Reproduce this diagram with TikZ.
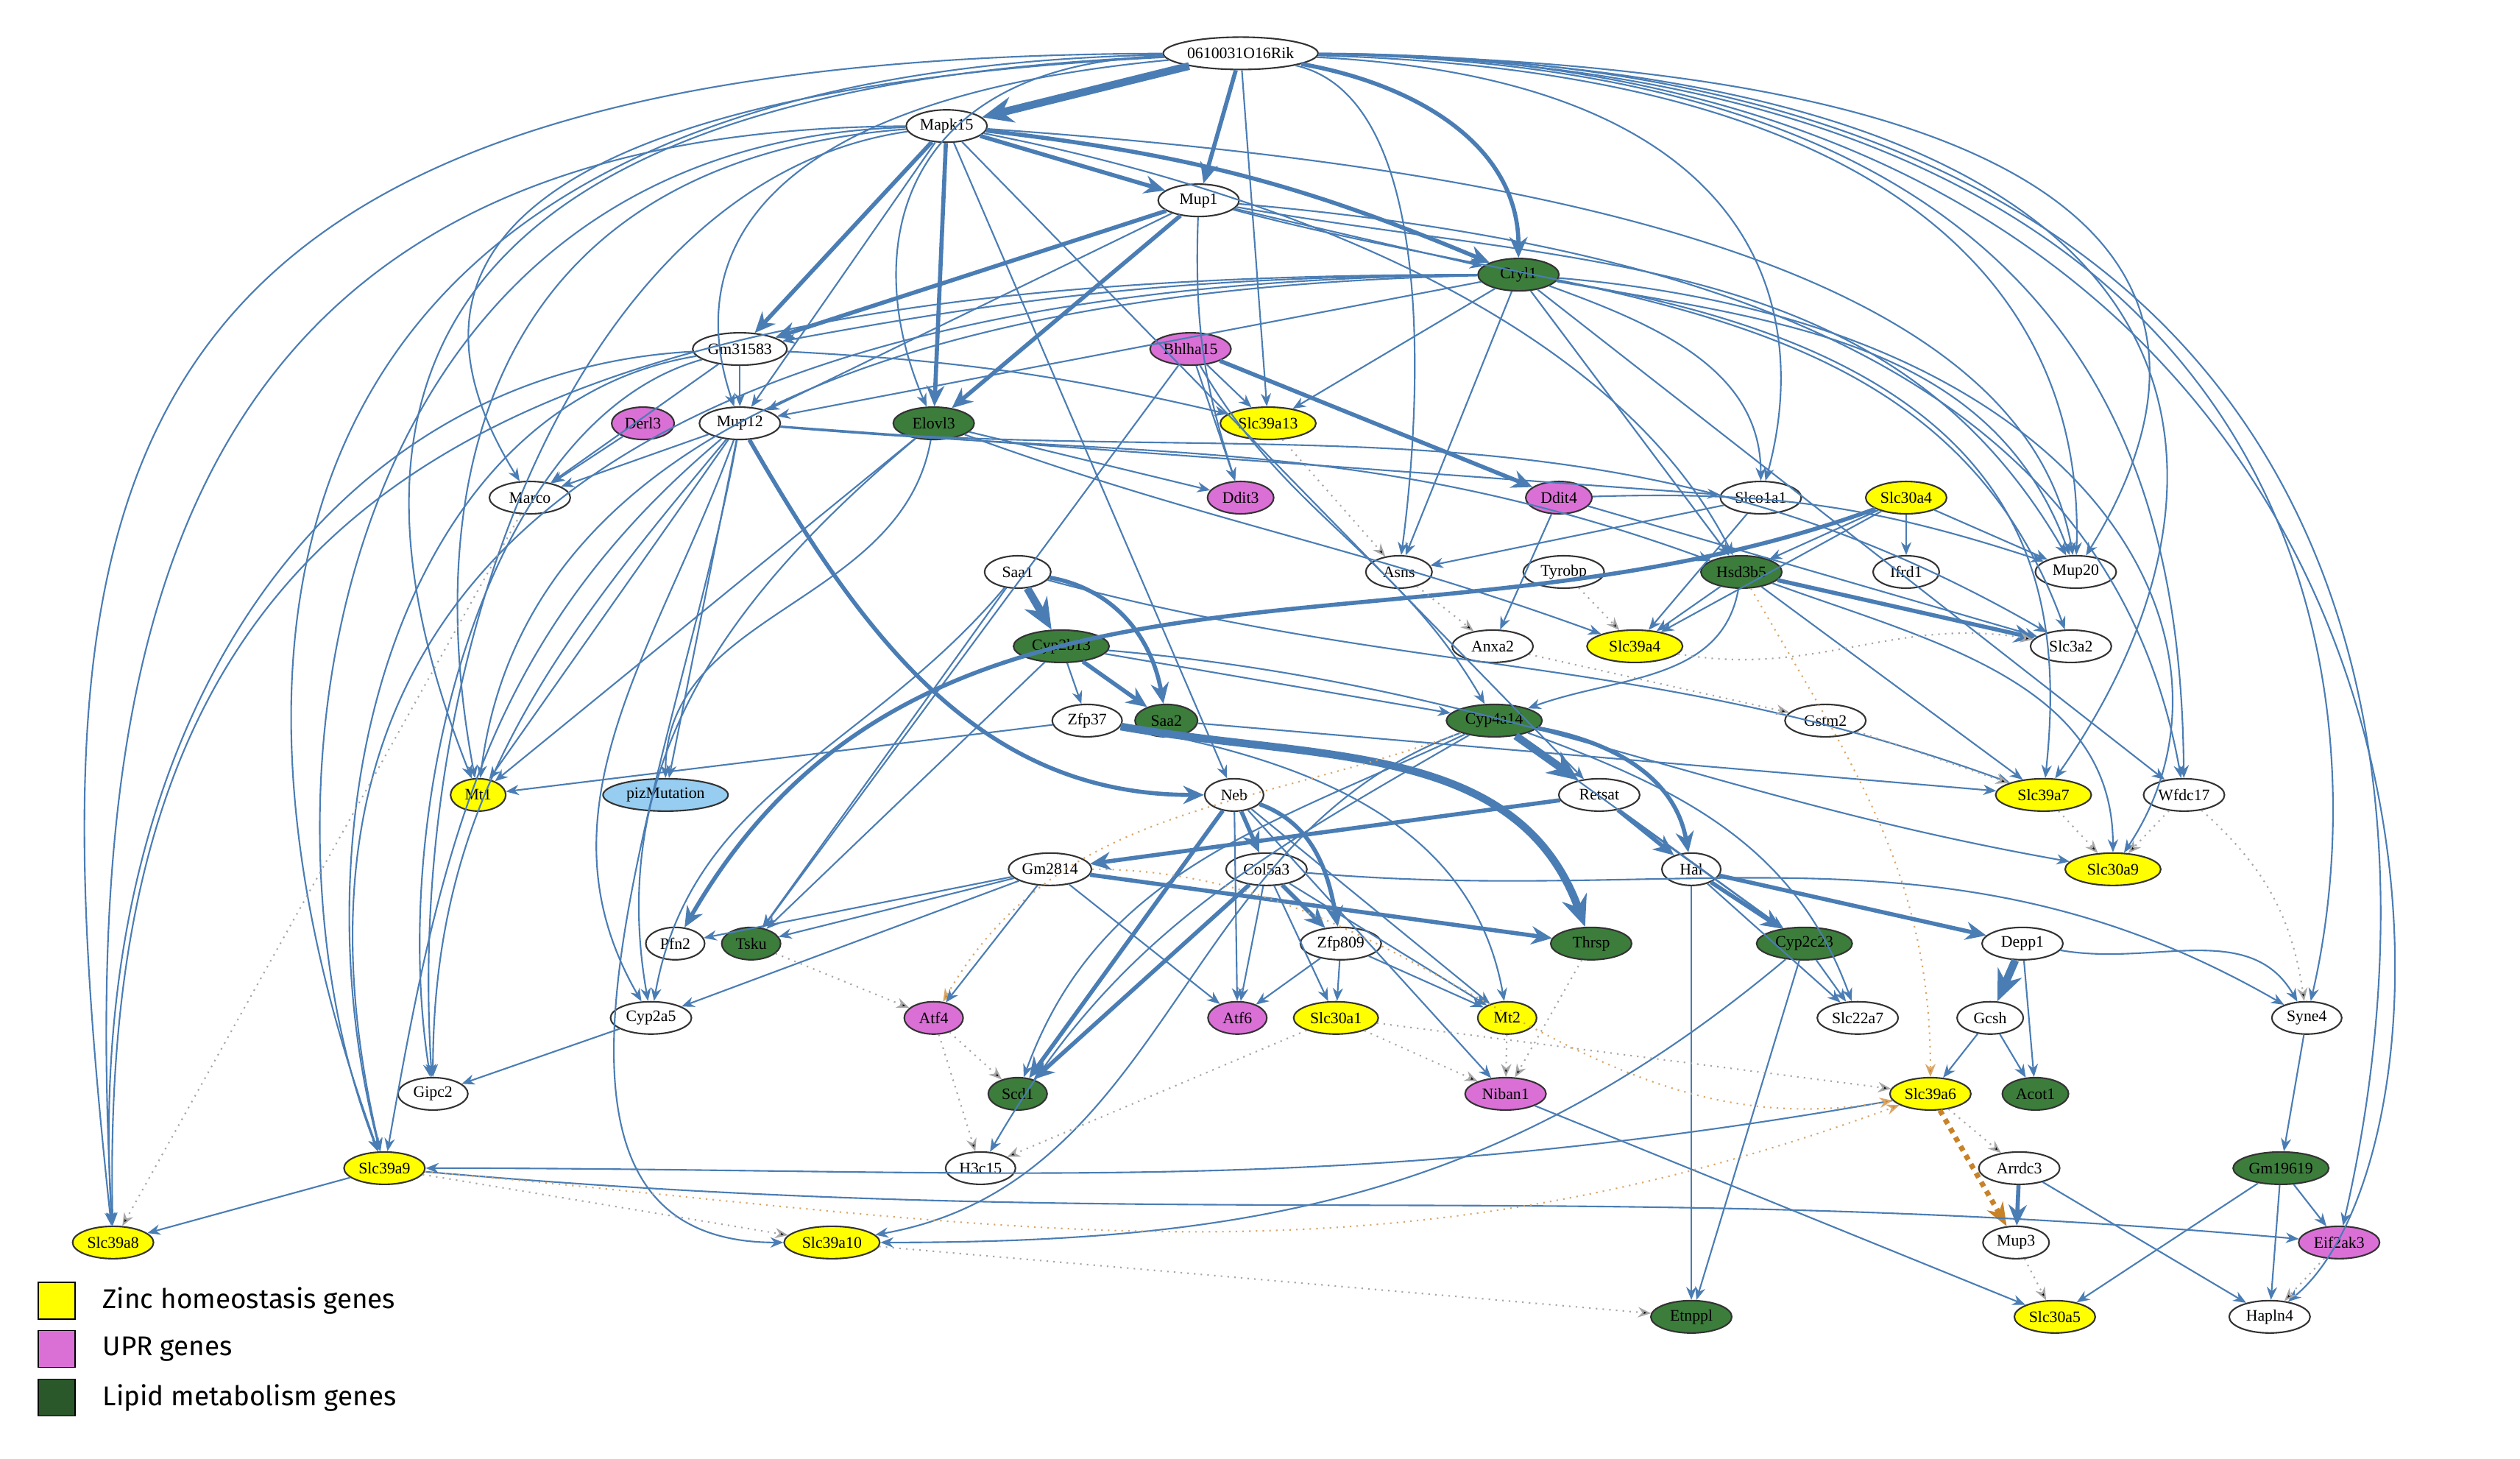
\documentclass[tikz,border=0pt]{standalone}
\usepackage{fontspec}
\setmainfont{Liberation Serif}
\newfontfamily\legfont{Fira Sans}
\usetikzlibrary{arrows.meta,shapes.geometric}
\definecolor{eb}{RGB}{74,125,180}
\definecolor{gy}{RGB}{255,255,0}
\definecolor{gm}{RGB}{218,112,214}
\definecolor{gg}{RGB}{60,125,60}
\definecolor{gb}{RGB}{150,205,240}
\definecolor{eo}{RGB}{200,130,40}
\tikzset{
 gene/.style={ellipse,draw=black!80,line width=0.6pt,fill=white,minimum width=1.1cm,minimum height=0.44cm,inner sep=0.5pt,font=\fontsize{6.2}{7}\selectfont},
 yel/.style={gene,fill=gy},
 mag/.style={gene,fill=gm},
 grn/.style={gene,fill=gg},
 blu/.style={gene,fill=gb},
 e/.style={draw=eb,line width=0.6pt,-{Stealth[length=5pt,width=4pt]}},
 E/.style={draw=eb,line width=1.6pt,-{Stealth[length=8pt,width=7pt]}},
 EE/.style={draw=eb,line width=3pt,-{Stealth[length=12pt,width=10pt]}},
 dt/.style={draw=gray!70,dotted,line width=0.6pt,-{Stealth[length=5pt,width=4pt,fill=black]}},
 od/.style={draw=eo!70,dotted,line width=0.6pt,-{Stealth[length=5pt,width=4pt,fill=eo]}},
 OD/.style={draw=eo,dotted,line width=2pt,-{Stealth[length=9pt,width=7pt]}},
 leg/.style={draw=black,minimum size=0.5cm,inner sep=0pt},
 legt/.style={anchor=west,font=\legfont\fontsize{10.5}{12}\selectfont}
}
\begin{document}
\begin{tikzpicture}[x=0.02195cm,y=-0.02195cm]
\useasboundingbox (0,0) rectangle (1560,903);
\fill[white] (0,0) rectangle (1560,903);
% nodes
\node[gene,minimum width=1.9cm] (rik) at (768,33) {0610031O16Rik};
\node[gene] (mapk15) at (586,78) {Mapk15};
\node[gene] (mup1) at (742,124) {Mup1};
\node[grn] (cryl1) at (940,170) {Cryl1};
\node[gene] (gm31583) at (458,216) {Gm31583};
\node[mag] (bhlha15) at (737,216) {Bhlha15};
\node[mag,minimum width=0.85cm] (derl3) at (398,262) {Derl3};
\node[gene] (mup12) at (458,262) {Mup12};
\node[grn] (elovl3) at (578,262) {Elovl3};
\node[yel,minimum width=1.3cm] (slc39a13) at (785,262) {Slc39a13};
\node[gene] (marco) at (328,308) {Marco};
\node[mag,minimum width=0.9cm] (ddit3) at (768,308) {Ddit3};
\node[mag,minimum width=0.9cm] (ddit4) at (965,308) {Ddit4};
\node[gene] (slco1a1) at (1090,308) {Slco1a1};
\node[yel] (slc30a4) at (1180,308) {Slc30a4};
\node[gene,minimum width=0.9cm] (saa1) at (630,354) {Saa1};
\node[gene,minimum width=0.9cm] (asns) at (866,354) {Asns};
\node[gene] (tyrobp) at (968,354) {Tyrobp};
\node[grn] (hsd3b5) at (1078,354) {Hsd3b5};
\node[gene,minimum width=0.9cm] (ifrd1) at (1180,354) {Ifrd1};
\node[gene] (mup20) at (1285,354) {Mup20};
\node[grn,minimum width=1.3cm] (cyp2b13) at (657,400) {Cyp2b13};
\node[gene] (anxa2) at (924,400) {Anxa2};
\node[yel,minimum width=1.3cm] (slc39a4) at (1012,400) {Slc39a4};
\node[gene] (slc3a2) at (1282,400) {Slc3a2};
\node[gene,minimum width=0.95cm] (zfp37) at (673,446) {Zfp37};
\node[grn,minimum width=0.85cm] (saa2) at (722,446) {Saa2};
\node[grn,minimum width=1.3cm] (cyp4a14) at (925,446) {Cyp4a14};
\node[gene] (gstm2) at (1130,446) {Gstm2};
\node[yel,minimum width=0.75cm] (mt1) at (296,492) {Mt1};
\node[blu,minimum width=1.7cm] (piz) at (412,492) {pizMutation};
\node[gene,minimum width=0.8cm] (neb) at (764,492) {Neb};
\node[gene] (retsat) at (990,492) {Retsat};
\node[yel,minimum width=1.3cm] (slc39a7) at (1265,492) {Slc39a7};
\node[gene] (wfdc17) at (1352,492) {Wfdc17};
\node[gene] (gm2814) at (650,538) {Gm2814};
\node[gene] (col5a3) at (784,538) {Col5a3};
\node[gene,minimum width=0.8cm] (hal) at (1047,538) {Hal};
\node[yel,minimum width=1.3cm] (slc30a9) at (1308,538) {Slc30a9};
\node[gene,minimum width=0.8cm] (pfn2) at (418,584) {Pfn2};
\node[grn,minimum width=0.8cm] (tsku) at (465,584) {Tsku};
\node[gene] (zfp809) at (830,584) {Zfp809};
\node[grn] (thrsp) at (985,584) {Thrsp};
\node[grn,minimum width=1.3cm] (cyp2c23) at (1117,584) {Cyp2c23};
\node[gene] (depp1) at (1252,584) {Depp1};
\node[gene] (cyp2a5) at (403,630) {Cyp2a5};
\node[mag,minimum width=0.8cm] (atf4) at (578,630) {Atf4};
\node[mag,minimum width=0.8cm] (atf6) at (766,630) {Atf6};
\node[yel,minimum width=1.15cm] (slc30a1) at (827,630) {Slc30a1};
\node[yel,minimum width=0.8cm] (mt2) at (933,630) {Mt2};
\node[gene] (slc22a7) at (1150,630) {Slc22a7};
\node[gene,minimum width=0.9cm] (gcsh) at (1232,630) {Gcsh};
\node[gene,minimum width=0.95cm] (syne4) at (1428,630) {Syne4};
\node[gene,minimum width=0.95cm] (gipc2) at (268,677) {Gipc2};
\node[grn,minimum width=0.8cm] (scd1) at (630,677) {Scd1};
\node[mag] (niban1) at (932,677) {Niban1};
\node[yel] (slc39a6) at (1195,677) {Slc39a6};
\node[grn,minimum width=0.9cm] (acot1) at (1260,677) {Acot1};
\node[yel] (slc39a9) at (238,723) {Slc39a9};
\node[gene,minimum width=0.95cm] (h3c15) at (607,723) {H3c15};
\node[gene] (arrdc3) at (1250,723) {Arrdc3};
\node[grn,minimum width=1.3cm] (gm19619) at (1412,723) {Gm19619};
\node[yel] (slc39a8) at (70,769) {Slc39a8};
\node[yel,minimum width=1.3cm] (slc39a10) at (515,769) {Slc39a10};
\node[gene,minimum width=0.9cm] (mup3) at (1248,769) {Mup3};
\node[mag] (eif2ak3) at (1448,769) {Eif2ak3};
\node[grn] (etnppl) at (1047,815) {Etnppl};
\node[yel] (slc30a5) at (1272,815) {Slc30a5};
\node[gene] (hapln4) at (1405,815) {Hapln4};
% edges from rik
\draw[EE] (rik) -- (mapk15);
\draw[E] (rik) -- (mup1);
\draw[E] (rik) to[out=-10,in=90] (cryl1);
\draw[e] (rik) .. controls (560,40) and (530,150) .. (elovl3);
\draw[e] (rik) -- (slc39a13);
\draw[e] (rik) .. controls (890,60) and (880,250) .. (asns);
\draw[e] (rik) .. controls (40,35) and (20,300) .. (slc39a8);
\draw[e] (rik) .. controls (150,45) and (120,400) .. (slc39a9);
\draw[e] (rik) .. controls (250,55) and (200,250) .. (mt1);
\draw[e] (rik) .. controls (480,60) and (420,150) .. (mup12);
\draw[e] (rik) .. controls (340,55) and (230,150) .. (marco);
\draw[e] (rik) .. controls (1100,50) and (1120,200) .. (slco1a1);
\draw[e] (rik) .. controls (1200,45) and (1290,200) .. (mup20);
\draw[e] (rik) .. controls (1500,35) and (1510,500) .. (eif2ak3);
\draw[e] (rik) .. controls (1545,35) and (1545,700) .. (hapln4);
\draw[e] (rik) .. controls (1460,40) and (1470,450) .. (syne4);
\draw[e] (rik) .. controls (1400,40) and (1400,300) .. (slc39a7);
\draw[e] (rik) .. controls (1350,40) and (1380,200) .. (mup20);
\draw[e] (rik) .. controls (1300,40) and (1350,300) .. (wfdc17);
% mapk15
\draw[E] (mapk15) -- (mup1);
\draw[E] (mapk15) -- (gm31583);
\draw[E] (mapk15) -- (elovl3);
\draw[E] (mapk15) to[bend left=8] (cryl1);
\draw[e] (mapk15) -- (mup12);
\draw[e] (mapk15) .. controls (100,80) and (50,400) .. (slc39a8);
\draw[e] (mapk15) .. controls (200,90) and (150,500) .. (slc39a9);
\draw[e] (mapk15) .. controls (300,100) and (260,300) .. (mt1);
\draw[e] (mapk15) .. controls (800,120) and (1000,200) .. (hsd3b5);
\draw[e] (mapk15) -- (retsat);
\draw[e] (mapk15) -- (neb);
\draw[e] (mapk15) .. controls (900,100) and (1250,150) .. (mup20);
\draw[e] (mapk15) .. controls (360,110) and (250,400) .. (gipc2);
% mup1
\draw[E] (mup1) -- (gm31583);
\draw[E] (mup1) -- (elovl3);
\draw[e] (mup1) -- (cryl1);
\draw[e] (mup1) to[out=-10,in=120] (mup20);
\draw[e] (mup1) to[out=-15,in=110] (slc3a2);
\draw[e] (mup1) -- (mup12);
\draw[e] (mup1) to[bend right=10] (ddit3);
\draw[e] (mup1) to[out=-5,in=100] (wfdc17);
% cryl1
\draw[e] (cryl1) -- (slc39a13);
\draw[e] (cryl1) to[out=-20,in=90] (slco1a1);
\draw[e] (cryl1) -- (asns);
\draw[e] (cryl1) -- (mup12);
\draw[e] (cryl1) .. controls (500,180) and (320,300) .. (mt1);
\draw[e] (cryl1) .. controls (300,170) and (60,300) .. (slc39a8);
\draw[e] (cryl1) .. controls (400,175) and (150,350) .. (slc39a9);
\draw[e] (cryl1) to[out=-10,in=110] (mup20);
\draw[e] (cryl1) .. controls (1300,200) and (1400,400) .. (slc30a9);
\draw[e] (cryl1) -- (wfdc17);
\draw[e] (cryl1) -- (hsd3b5);
\draw[e] (cryl1) .. controls (1250,220) and (1280,350) .. (slc39a7);
\draw[e] (cryl1) to[bend right=5] (gm31583);
% gm31583
\draw[e] (gm31583) -- (mup12);
\draw[e] (gm31583) -- (marco);
\draw[e] (gm31583) to[bend left=5] (slc39a13);
\draw[e] (gm31583) .. controls (250,250) and (180,500) .. (slc39a9);
\draw[e] (gm31583) .. controls (300,260) and (240,500) .. (gipc2);
\draw[e] (gm31583) .. controls (200,230) and (50,450) .. (slc39a8);
% bhlha15
\draw[e] (bhlha15) -- (ddit3);
\draw[e] (bhlha15) -- (slc39a13);
\draw[E] (bhlha15) -- (ddit4);
\draw[e] (bhlha15) to[out=-60,in=120] (cyp4a14);
\draw[e] (bhlha15) -- (tsku);
\draw[e] (derl3) -- (marco);
% mup12
\draw[e] (mup12) -- (marco);
\draw[e] (mup12) -- (mt1);
\draw[e] (mup12) -- (piz);
\draw[E] (mup12) to[out=-60,in=180] (neb);
\draw[e] (mup12) to[out=230,in=90] (gipc2);
\draw[e] (mup12) to[out=220,in=80] (slc39a9);
\draw[e] (mup12) to[out=260,in=180] (slc39a10);
\draw[e] (mup12) -- (slco1a1);
\draw[e] (mup12) to[out=-5,in=160] (hsd3b5);
\draw[e] (mup12) to[out=-5,in=150] (slc3a2);
\draw[e] (mup12) to[out=250,in=120] (cyp2a5);
% elovl3
\draw[e] (elovl3) -- (ddit3);
\draw[e] (elovl3) to[out=-100,in=90] (piz);
\draw[e] (elovl3) -- (mt1);
\draw[e] (elovl3) to[out=-20,in=160] (slc39a4);
\draw[e] (elovl3) to[out=220,in=100] (cyp2a5);
% ddit4 etc
\draw[e] (ddit4) -- (anxa2);
\draw[e] (ddit4) to[bend left=10] (mup20);
\draw[e] (ddit4) -- (slc3a2);
\draw[e] (slco1a1) -- (slc39a4);
\draw[e] (slco1a1) -- (asns);
\draw[e] (slc30a4) -- (ifrd1);
\draw[e] (slc30a4) -- (mup20);
\draw[E] (slc30a4) to[out=200,in=60] (pfn2);
\draw[e] (slc30a4) -- (slc39a4);
\draw[e] (slc30a4) -- (hsd3b5);
% hsd3b5
\draw[E] (hsd3b5) -- (slc3a2);
\draw[e] (hsd3b5) -- (slc39a4);
\draw[e] (hsd3b5) -- (slc39a7);
\draw[e] (hsd3b5) to[out=-100,in=20] (cyp4a14);
\draw[e] (hsd3b5) to[out=-20,in=90] (slc30a9);
\draw[od] (hsd3b5) to[out=-60,in=90] (slc39a6);
% saa1 etc
\draw[EE] (saa1) -- (cyp2b13);
\draw[E] (saa1) to[out=-10,in=100] (saa2);
\draw[e] (saa1) -- (tsku);
\draw[e] (saa1) to[out=-15,in=160] (slc39a7);
\draw[e] (saa1) to[out=230,in=80] (cyp2a5);
\draw[e] (cyp2b13) -- (zfp37);
\draw[E] (cyp2b13) -- (saa2);
\draw[e] (cyp2b13) -- (cyp4a14);
\draw[e] (cyp2b13) to[out=-5,in=170] (slc30a9);
\draw[e] (cyp2b13) -- (tsku);
\draw[e] (zfp37) -- (mt1);
\draw[EE] (zfp37) to[out=-10,in=110] (thrsp);
\draw[e] (zfp37) to[out=-10,in=100] (mt2);
\draw[e] (saa2) -- (slc39a7);
% cyp4a14
\draw[EE] (cyp4a14) -- (retsat);
\draw[E] (cyp4a14) to[out=-10,in=100] (hal);
\draw[e] (cyp4a14) -- (cyp2c23);
\draw[e] (cyp4a14) to[out=-20,in=110] (slc22a7);
\draw[e] (cyp4a14) to[out=210,in=60] (h3c15);
\draw[e] (cyp4a14) to[out=200,in=10] (slc39a10);
\draw[od] (cyp4a14) to[out=200,in=60] (atf4);
\draw[e] (cyp4a14) to[out=205,in=70] (scd1);
% retsat hal depp1 gcsh
\draw[E] (retsat) -- (gm2814);
\draw[E] (retsat) -- (hal);
\draw[e] (retsat) -- (cyp2c23);
\draw[E] (hal) -- (depp1);
\draw[E] (hal) -- (cyp2c23);
\draw[e] (hal) -- (etnppl);
\draw[e] (hal) -- (slc22a7);
\draw[EE] (depp1) -- (gcsh);
\draw[e] (depp1) -- (acot1);
\draw[e] (gcsh) -- (slc39a6);
\draw[e] (gcsh) -- (acot1);
% neb
\draw[E] (neb) -- (col5a3);
\draw[E] (neb) to[out=-20,in=100] (zfp809);
\draw[e] (neb) -- (atf6);
\draw[E] (neb) -- (scd1);
\draw[e] (neb) -- (niban1);
\draw[e] (neb) -- (mt2);
% gm2814
\draw[e] (gm2814) -- (pfn2);
\draw[e] (gm2814) -- (tsku);
\draw[e] (gm2814) -- (atf4);
\draw[e] (gm2814) -- (atf6);
\draw[E] (gm2814) -- (thrsp);
\draw[e] (gm2814) -- (cyp2a5);
% col5a3
\draw[E] (col5a3) -- (zfp809);
\draw[e] (col5a3) -- (atf6);
\draw[e] (col5a3) -- (slc30a1);
\draw[E] (col5a3) -- (scd1);
\draw[e] (col5a3) -- (mt2);
\draw[e] (col5a3) to[out=-5,in=150] (syne4);
\draw[e] (zfp809) -- (atf6);
\draw[e] (zfp809) -- (slc30a1);
\draw[e] (zfp809) -- (mt2);
\draw[e] (cyp2c23) -- (slc22a7);
\draw[e] (cyp2c23) -- (etnppl);
\draw[e] (cyp2c23) to[out=220,in=0] (slc39a10);
\draw[e] (cyp2a5) -- (gipc2);
\draw[OD] (slc39a6) -- (mup3);
\draw[dt] (slc39a6) -- (arrdc3);
\draw[e] (slc39a6) to[out=190,in=0] (slc39a9);
\draw[E] (arrdc3) -- (mup3);
\draw[e] (arrdc3) -- (hapln4);
\draw[e] (syne4) -- (gm19619);
\draw[e] (gm19619) -- (eif2ak3);
\draw[e] (gm19619) -- (hapln4);
\draw[e] (gm19619) -- (slc30a5);
\draw[e] (slc39a9) -- (slc39a8);
\draw[e] (slc39a9) to[out=-5,in=175] (eif2ak3);
\draw[e] (niban1) -- (slc30a5);
\draw[e] (depp1) to[out=-10,in=120] (syne4);
% dotted
\draw[dt] (slc39a9) -- (slc39a10);
\draw[dt] (mup3) -- (slc30a5);
\draw[dt] (slc39a10) -- (etnppl);
\draw[dt] (slc30a1) -- (niban1);
\draw[dt] (mt2) -- (niban1);
\draw[dt] (thrsp) -- (niban1);
\draw[dt] (slc30a1) -- (slc39a6);
\draw[dt] (atf4) -- (scd1);
\draw[dt] (atf4) -- (h3c15);
\draw[dt] (tsku) -- (atf4);
\draw[dt] (slc30a1) -- (h3c15);
\draw[dt] (marco) -- (slc39a8);
\draw[dt] (slc39a13) -- (asns);
\draw[dt] (tyrobp) -- (slc39a4);
\draw[dt] (asns) -- (anxa2);
\draw[dt] (gstm2) -- (slc39a7);
\draw[dt] (slc39a7) -- (slc30a9);
\draw[dt] (wfdc17) -- (slc30a9);
\draw[dt] (eif2ak3) -- (hapln4);
\draw[dt] (anxa2) -- (gstm2);
\draw[dt] (slc39a4) to[out=-10,in=170] (slc3a2);
\draw[dt] (wfdc17) to[bend left=20] (syne4);
\draw[od] (gm2814) to[out=0,in=190] (slc39a6);
\draw[od] (slc39a9) to[out=-5,in=200] (slc39a6);
% legend
\node[leg,fill=gy] (l1) at (35,805) {};
\node[legt] (t1) at (58,805) {Zinc homeostasis genes};
\node[leg,fill=gm] (l2) at (35,835) {};
\node[legt] (t2) at (58,835) {UPR genes};
\node[leg,fill=gg!70!black] (l3) at (35,865) {};
\node[legt] (t3) at (58,865) {Lipid metabolism genes};
\end{tikzpicture}
\end{document}
